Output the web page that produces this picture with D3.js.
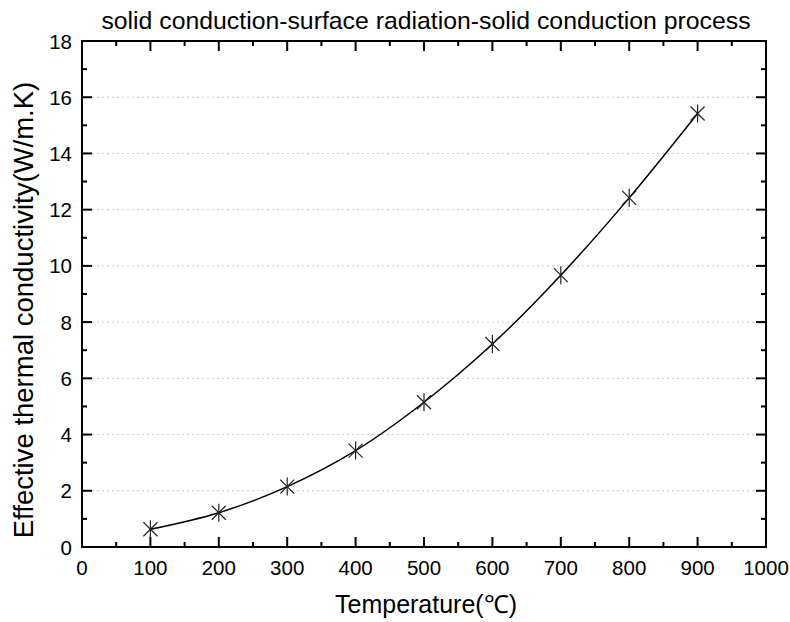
<!DOCTYPE html>
<html><head><meta charset="utf-8">
<script src="https://cdn.jsdelivr.net/npm/d3@7"></script>
<style>body{margin:0;background:#fff}svg{display:block}text{font-family:"Liberation Sans",Arial,sans-serif;fill:#000}</style>
</head><body><svg id="c" width="790" height="622"></svg>
<script>
const temps = [100,200,300,400,500,600,700,800,900];
const kEff = [0.63,1.22,2.15,3.43,5.15,7.22,9.67,12.42,15.42];
const xTicks = [0,100,200,300,400,500,600,700,800,900,1000];
const yTicks = [0,2,4,6,8,10,12,14,16,18];
const xMinor = [50,150,250,350,450,550,650,750,850,950];
const yMinor = [1,3,5,7,9,11,13,15,17];
const title = "solid conduction-surface radiation-solid conduction process";
const xTitle = "Temperature(\u2103)";
const yTitle = "Effective thermal conductivity(W/m.K)";

const L=82,R=766,T=41,B=547;
const svg=d3.select("#c");
const x=d3.scaleLinear().domain([0,1000]).range([L,R]);
const y=d3.scaleLinear().domain([0,18]).range([B,T]);

// grid
svg.append("g").selectAll("line").data(yTicks.filter(v=>v>0&&v<18)).join("line")
 .attr("x1",L+10).attr("x2",R-10).attr("y1",d=>y(d)).attr("y2",d=>y(d))
 .attr("stroke","#c8c8c8").attr("stroke-width",1).attr("stroke-dasharray","2,3");

// ticks
const tk=svg.append("g").attr("stroke","#000").attr("stroke-width",2);
xTicks.forEach(v=>{tk.append("line").attr("x1",x(v)).attr("x2",x(v)).attr("y1",B).attr("y2",B-10);
 tk.append("line").attr("x1",x(v)).attr("x2",x(v)).attr("y1",T).attr("y2",T+10);});
xMinor.forEach(v=>{tk.append("line").attr("x1",x(v)).attr("x2",x(v)).attr("y1",B).attr("y2",B-5);
 tk.append("line").attr("x1",x(v)).attr("x2",x(v)).attr("y1",T).attr("y2",T+5);});
yTicks.forEach(v=>{tk.append("line").attr("y1",y(v)).attr("y2",y(v)).attr("x1",L).attr("x2",L+10);
 tk.append("line").attr("y1",y(v)).attr("y2",y(v)).attr("x1",R).attr("x2",R-10);});
yMinor.forEach(v=>{tk.append("line").attr("y1",y(v)).attr("y2",y(v)).attr("x1",L).attr("x2",L+5);
 tk.append("line").attr("y1",y(v)).attr("y2",y(v)).attr("x1",R).attr("x2",R-5);});

svg.append("rect").attr("x",L).attr("y",T).attr("width",R-L).attr("height",B-T)
 .attr("fill","none").attr("stroke","#000").attr("stroke-width",2);

// tick labels
svg.append("g").selectAll("text").data(xTicks).join("text")
 .attr("x",d=>x(d)).attr("y",575).attr("text-anchor","middle").attr("font-size",20.5).text(d=>d);
svg.append("g").selectAll("text").data(yTicks).join("text")
 .attr("x",72).attr("y",d=>y(d)+7.5).attr("text-anchor","end").attr("font-size",20.5).text(d=>d);

// line
const data=temps.map((t,i)=>[t,kEff[i]]);
svg.append("path").datum(data).attr("fill","none").attr("stroke","#000").attr("stroke-width",1.5)
 .attr("d",d3.line().x(d=>x(d[0])).y(d=>y(d[1])).curve(d3.curveCatmullRom));

// markers
const m=svg.append("g").attr("stroke","#222").attr("stroke-width",1.2);
data.forEach(d=>{const cx=x(d[0]),cy=y(d[1]),s=9,s2=7;
 m.append("line").attr("x1",cx).attr("x2",cx).attr("y1",cy-s).attr("y2",cy+s);
 m.append("line").attr("x1",cx-s2).attr("x2",cx+s2).attr("y1",cy-s2).attr("y2",cy+s2);
 m.append("line").attr("x1",cx-s2).attr("x2",cx+s2).attr("y1",cy+s2).attr("y2",cy-s2);});

// titles
svg.append("text").attr("x",426).attr("y",29).attr("text-anchor","middle").attr("font-size",24.8).text(title);
svg.append("text").attr("x",426).attr("y",613).attr("text-anchor","middle").attr("font-size",25).text(xTitle);
svg.append("text").attr("transform",`translate(33,310) rotate(-90)`).attr("text-anchor","middle").attr("font-size",27.5).text(yTitle);
</script></body></html>
